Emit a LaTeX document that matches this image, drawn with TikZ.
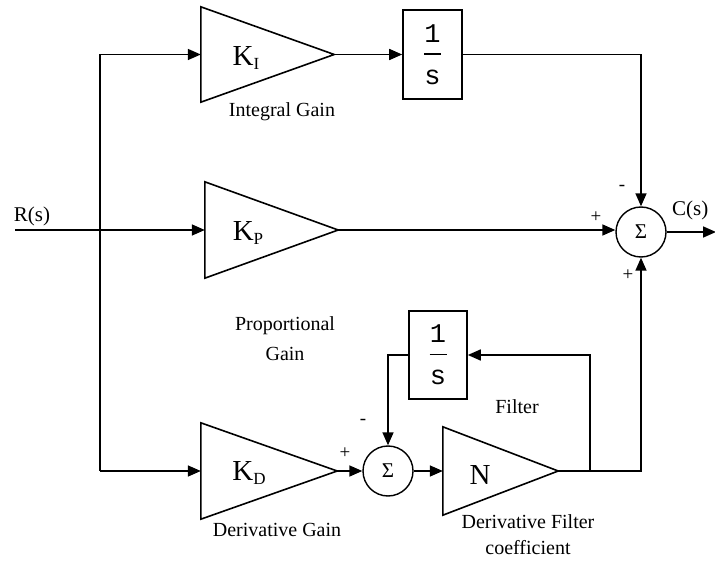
\documentclass[tikz,border=0pt]{standalone}
\usepackage{fontspec}
\setmainfont{Liberation Serif}
\newfontfamily\monof{Liberation Mono}
\usetikzlibrary{arrows.meta,calc}
\newcommand\Kg[2]{{\fontsize{29}{30}\selectfont #1}\raisebox{-4pt}{\fontsize{17}{18}\selectfont #2}}
\newcommand\oneover{\vbox{\monof\fontsize{27}{27}\selectfont\hbox to 17pt{\hss 1\hss}\kern11pt\hrule height 1.3pt\kern15pt\hbox to 17pt{\hss s\hss}}}
\tikzset{
  ln/.style={line width=1.6pt, line join=miter},
  arr/.style={ln, -{Triangle[length=13pt,width=11pt]}},
  tribox/.style={rectangle, draw=none, inner sep=0pt},
  blk/.style={rectangle, draw, line width=1.6pt, inner sep=0pt},
  sumc/.style={circle, draw, line width=1.4pt, minimum size=50pt, inner sep=0pt, font=\fontsize{21}{22}\selectfont},
  lbl/.style={inner sep=0pt, font=\fontsize{20}{26}\selectfont, align=center},
  sgn/.style={inner sep=0pt, font=\fontsize{19}{19}\selectfont},
  big/.style={inner sep=0pt, font=\fontsize{21}{22}\selectfont}
}
\newcommand\tri[1]{\draw[ln] (#1.north west) -- (#1.east) -- (#1.south west) -- cycle;}
\begin{document}
\begin{tikzpicture}[x=1pt,y=-1pt]
\useasboundingbox[fill=white] (0,0) rectangle (715,561);
% triangles (gain blocks)
\node[tribox, minimum width=133pt, minimum height=95pt] (KI) at (267.5,54.5) {};
\node[tribox, minimum width=133pt, minimum height=96pt] (KP) at (271.5,230) {};
\node[tribox, minimum width=136pt, minimum height=96pt] (KD) at (269,471) {};
\node[tribox, minimum width=115pt, minimum height=88pt] (N) at (500.5,471) {};
\tri{KI}\tri{KP}\tri{KD}\tri{N}
\node[inner sep=0pt] (kiL) at (246,58) {\Kg{K}{I}};
\node[inner sep=0pt] (kpL) at (248,233) {\Kg{K}{P}};
\node[inner sep=0pt] (kdL) at (249,473) {\Kg{K}{D}};
\node[inner sep=0pt, font=\fontsize{29}{30}\selectfont] (nL) at (480,475) {N};
% integrator blocks
\node[blk, minimum width=59pt, minimum height=89pt] (I1) at (432.5,54.5) {\oneover};
\node[blk, minimum width=58pt, minimum height=88pt] (F) at (438,355) {\oneover};
% summing junctions
\node[sumc] (S) at (641,232) {Σ};
\node[sumc] (s2) at (388,471) {Σ};
% labels
\node[lbl] (igL) at (282,112) {Integral Gain};
\node[lbl, font=\fontsize{20}{30}\selectfont] (pgL) at (285,339) {Proportional\\Gain};
\node[lbl] (dgL) at (277,530) {Derivative Gain};
\node[lbl] (fL) at (517,407) {Filter};
\node[lbl] (dfL) at (528,535) {Derivative Filter\\coefficient};
\node[big] (rL) at (32,216) {R(s)};
\node[big, anchor=west] (cL) at (672,210) {C(s)};
% signs
\node[sgn] (m1) at (622,188) {-};
\node[sgn] (p1) at (596,217) {+};
\node[sgn] (p2) at (628,275) {+};
\node[sgn] (m2) at (363,422) {-};
\node[sgn] (p3) at (345,453) {+};
% connection points
\coordinate (Rin) at (15,230);
\coordinate (busT) at (100,54.5);
\coordinate (busB) at (100,471);
\coordinate (fj) at (590,471);
\coordinate (Cout) at (716,232);
% connectors
\draw[ln] (busT) -- (busB);
\draw[arr] (busT) -- (KI.west);
\draw[arr] (busB) -- (KD.west);
\draw[arr] (Rin) -- (KP.west);
\draw[arr] (KI.east) -- (I1.west);
\draw[arr] (I1.east) -| (S.north);
\draw[arr] (KP.east) -- (KP.east -| S.west);
\draw[arr] (S.east) -- (Cout);
\draw[arr] (KD.east) -- (s2.west);
\draw[arr] (s2.east) -- (N.west);
\draw[arr] (N.east) -| (S.south);
\draw[arr] (fj) |- (F.east);
\draw[arr] (F.west) -| (s2.north);
\end{tikzpicture}
\end{document}
